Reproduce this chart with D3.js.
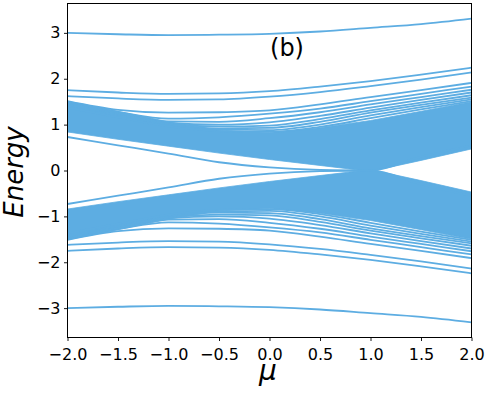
<!DOCTYPE html>
<html>
<head>
<meta charset="utf-8">
<script src="https://cdn.jsdelivr.net/npm/d3@7"></script>
<style>
  body { margin: 0; background: #fff; }
  svg { display: block; }
</style>
</head>
<body>
<script>
var svgWidth = 488;
var svgHeight = 398;

// sample points along mu
var muValues = [-2, -1.5, -1, -0.5, 0, 0.5, 1, 1.5, 2];

// isolated levels
var topLevel = [3.00, 2.97, 2.95, 2.96, 2.98, 3.03, 3.11, 3.19, 3.31];
var bottomLevel = [-3.00, -2.97, -2.95, -2.96, -2.98, -3.03, -3.11, -3.19, -3.31];

var upperPair = [
    [1.75, 1.70, 1.67, 1.68, 1.73, 1.83, 1.95, 2.09, 2.24],
    [1.62, 1.57, 1.54, 1.55, 1.61, 1.71, 1.84, 1.98, 2.14]
];
var lowerPair = [
    [-1.75, -1.70, -1.67, -1.68, -1.73, -1.83, -1.95, -2.09, -2.24],
    [-1.62, -1.57, -1.54, -1.55, -1.61, -1.71, -1.84, -1.98, -2.14]
];

// in-gap states
var upperGapLine = [0.73, 0.55, 0.37, 0.18, 0.07, 0.015, 0.0, 0.30, 0.55];
var lowerGapLine = [-0.73, -0.55, -0.37, -0.18, -0.07, -0.015, 0.0, -0.30, -0.55];

// dense bands (edges of the filled part)
var upperBandLow = [0.84, 0.68, 0.53, 0.38, 0.24, 0.11, -0.02, 0.22, 0.47];
var upperBandHigh = [1.51, 1.29, 1.06, 0.88, 0.83, 0.93, 1.09, 1.29, 1.50];
var lowerBandHigh = [-0.84, -0.68, -0.53, -0.38, -0.24, -0.11, 0.02, -0.22, -0.47];
var lowerBandLow = [-1.51, -1.29, -1.06, -0.88, -0.83, -0.93, -1.09, -1.29, -1.50];

// band levels that peel off the dense part
var upperBandLines = [
    [1.51, 1.32, 1.26, 1.27, 1.31, 1.44, 1.60, 1.75, 1.91],
    [1.49, 1.28, 1.13, 1.16, 1.24, 1.35, 1.51, 1.67, 1.83],
    [1.47, 1.26, 1.07, 1.06, 1.14, 1.27, 1.44, 1.60, 1.76],
    [1.45, 1.24, 1.04, 1.00, 1.05, 1.19, 1.37, 1.54, 1.70],
    [1.43, 1.22, 1.02, 0.96, 0.98, 1.12, 1.31, 1.48, 1.64],
    [1.41, 1.20, 1.00, 0.92, 0.93, 1.06, 1.26, 1.43, 1.59],
    [1.39, 1.18, 0.98, 0.89, 0.88, 1.00, 1.20, 1.38, 1.55],
    [1.37, 1.16, 0.96, 0.86, 0.84, 0.95, 1.14, 1.33, 1.51]
];
var lowerBandLines = [
    [-1.51, -1.32, -1.26, -1.27, -1.31, -1.44, -1.60, -1.75, -1.91],
    [-1.49, -1.28, -1.13, -1.16, -1.24, -1.35, -1.51, -1.67, -1.83],
    [-1.47, -1.26, -1.07, -1.06, -1.14, -1.27, -1.44, -1.60, -1.76],
    [-1.45, -1.24, -1.04, -1.00, -1.05, -1.19, -1.37, -1.54, -1.70],
    [-1.43, -1.22, -1.02, -0.96, -0.98, -1.12, -1.31, -1.48, -1.64],
    [-1.41, -1.20, -1.00, -0.92, -0.93, -1.06, -1.26, -1.43, -1.59],
    [-1.39, -1.18, -0.98, -0.89, -0.88, -1.00, -1.20, -1.38, -1.55],
    [-1.37, -1.16, -0.96, -0.86, -0.84, -0.95, -1.14, -1.33, -1.51]
];

var xTicks = [-2, -1.5, -1, -0.5, 0, 0.5, 1, 1.5, 2];
var yTicks = [-3, -2, -1, 0, 1, 2, 3];

var lineColor = "#5dade2";

var svg = d3.select("body").append("svg").attr("width", svgWidth).attr("height", svgHeight);

var x = d3.scaleLinear().domain([-2, 2]).range([67.5, 471.5]);
var y = d3.scaleLinear().domain([-3.64, 3.64]).range([337.5, 3.5]);

svg.append("clipPath").attr("id", "plot-clip")
    .append("rect")
    .attr("x", x(-2)).attr("y", y(3.64))
    .attr("width", x(2) - x(-2)).attr("height", y(-3.64) - y(3.64));

var plot = svg.append("g").attr("clip-path", "url(#plot-clip)");

function toPoints(vals) {
    return vals.map(function(v, i) { return [muValues[i], v]; });
}

// filled bands
var bandArea = d3.area()
    .x(function(d) { return x(d[0]); })
    .y0(function(d) { return y(d[1]); })
    .y1(function(d) { return y(d[2]); })
    .curve(d3.curveLinear);

var bands = [
    [upperBandLow, upperBandHigh],
    [lowerBandHigh, lowerBandLow]
];
plot.selectAll("path.band").data(bands).join("path")
    .attr("class", "band")
    .attr("d", function(b) {
        return bandArea(muValues.map(function(m, i) { return [m, b[0][i], b[1][i]]; }));
    })
    .attr("fill", lineColor)
    .attr("stroke", lineColor)
    .attr("stroke-width", 0.8);

var line = d3.line()
    .x(function(d) { return x(d[0]); })
    .y(function(d) { return y(d[1]); })
    .curve(d3.curveMonotoneX);

var allLines = [topLevel, bottomLevel, upperGapLine, lowerGapLine]
    .concat(upperPair, lowerPair, upperBandLines, lowerBandLines);

plot.selectAll("path.level").data(allLines).join("path")
    .attr("class", "level")
    .attr("d", function(d) { return line(toPoints(d)); })
    .attr("fill", "none")
    .attr("stroke", lineColor)
    .attr("stroke-width", 1.8);

// axes
var xAxis = svg.append("g")
    .attr("transform", "translate(0," + y(-3.64) + ")")
    .call(d3.axisBottom(x).tickValues(xTicks).tickSize(3.5).tickPadding(8).tickFormat(d3.format(".1f")));

var yAxis = svg.append("g")
    .attr("transform", "translate(" + x(-2) + ",0)")
    .call(d3.axisLeft(y).tickValues(yTicks).tickSize(3.5).tickPadding(3.5).tickFormat(d3.format("d")));

[xAxis, yAxis].forEach(function(a) {
    a.select(".domain").remove();
    a.selectAll("line").attr("stroke", "#000").attr("stroke-width", 0.9);
    a.selectAll("text")
        .attr("fill", "#000")
        .style("font-family", "'DejaVu Sans', sans-serif")
        .style("font-size", "16px");
});

// frame
svg.append("rect")
    .attr("x", x(-2)).attr("y", y(3.64))
    .attr("width", x(2) - x(-2)).attr("height", y(-3.64) - y(3.64))
    .attr("fill", "none")
    .attr("stroke", "#000")
    .attr("stroke-width", 1);

// labels
svg.append("text")
    .attr("x", 268).attr("y", 380)
    .attr("text-anchor", "middle")
    .style("font-family", "'DejaVu Sans', sans-serif")
    .style("font-style", "italic")
    .style("font-size", "28px")
    .text("μ");

svg.append("text")
    .attr("transform", "translate(23,172) rotate(-90)")
    .attr("text-anchor", "middle")
    .style("font-family", "'DejaVu Sans', sans-serif")
    .style("font-style", "italic")
    .style("font-size", "26px")
    .text("Energy");

svg.append("text")
    .attr("x", 287).attr("y", 56)
    .attr("text-anchor", "middle")
    .style("font-family", "'DejaVu Sans', sans-serif")
    .style("font-size", "24px")
    .text("(b)");
</script>
</body>
</html>
